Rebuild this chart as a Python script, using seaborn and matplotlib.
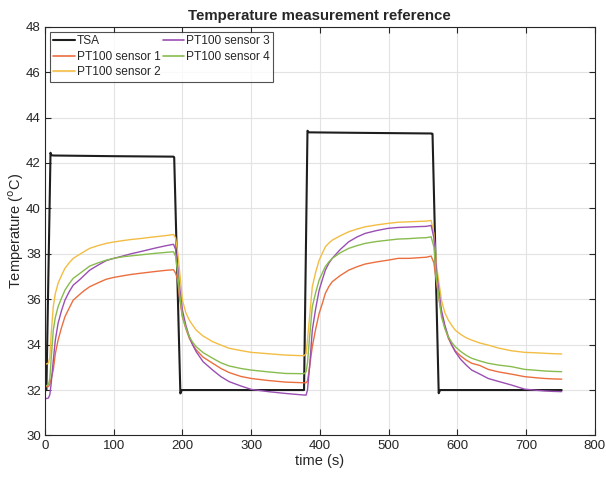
import numpy as np
import pandas as pd
import matplotlib
matplotlib.use("Agg")
import matplotlib.pyplot as plt
import seaborn as sns

# ---- data ----
tsa_time = [0, 2, 8, 9, 12, 100, 187, 188, 197, 199, 300, 377, 382, 384, 450, 563, 564, 573, 575, 650, 752]
tsa_temp = [32.0, 32.0, 42.45, 42.35, 42.33, 42.3, 42.28, 42.25, 31.85, 32.0, 32.0, 32.0, 43.42, 43.35, 43.33, 43.3, 43.28, 31.86, 32.0, 32.0, 32.0]

sensor_time = [0, 3, 5, 7, 9, 12, 15, 19, 24, 29, 35, 41, 50, 57, 65, 77, 89, 100, 113, 125, 138, 160, 175, 187,
               190, 193, 196, 200, 205, 210, 215, 220, 230, 244, 256, 268, 285, 300, 325, 350, 377,
               380, 382, 385, 389, 394, 399, 404, 408, 413, 418, 430, 442, 454, 466, 482, 499, 514, 530, 545, 555, 562,
               566, 570, 574, 577, 582, 587, 592, 597, 605, 613, 621, 633, 645, 660, 679, 698, 715, 727, 740, 752]

sensor1 = [32.15, 32.15, 32.15, 32.25, 32.5, 32.88, 33.6, 34.2, 34.75, 35.23, 35.6, 35.96, 36.2, 36.38, 36.55, 36.72, 36.88, 36.96, 37.03, 37.09, 37.14, 37.22, 37.27, 37.3,
           37.15, 36.85, 36.0, 35.23, 34.7, 34.28, 34.0, 33.77, 33.45, 33.18, 32.95, 32.77, 32.6, 32.51, 32.42, 32.35, 32.32,
           32.32, 32.4, 33.0, 33.91, 34.7, 35.38, 35.85, 36.26, 36.55, 36.77, 37.05, 37.28, 37.43, 37.55, 37.64, 37.72, 37.8, 37.8, 37.83, 37.85, 37.9,
           37.6, 36.7, 35.9, 35.38, 34.75, 34.28, 33.98, 33.73, 33.5, 33.32, 33.18, 33.08, 32.91, 32.8, 32.7, 32.59, 32.54, 32.51, 32.49, 32.48]

sensor2 = [33.15, 33.15, 33.2, 33.45, 34.5, 35.67, 36.25, 36.7, 37.05, 37.36, 37.6, 37.8, 37.97, 38.1, 38.24, 38.36, 38.46, 38.52, 38.58, 38.63, 38.67, 38.75, 38.8, 38.85,
           38.7, 38.1, 37.2, 35.96, 35.4, 35.08, 34.85, 34.64, 34.38, 34.13, 33.98, 33.84, 33.74, 33.66, 33.6, 33.54, 33.51,
           33.6, 34.2, 35.2, 36.55, 37.2, 37.72, 38.05, 38.31, 38.47, 38.6, 38.8, 38.97, 39.09, 39.19, 39.27, 39.34, 39.39, 39.41, 39.43, 39.44, 39.47,
           38.9, 37.43, 36.6, 35.96, 35.4, 35.08, 34.85, 34.64, 34.45, 34.3, 34.2, 34.07, 33.98, 33.85, 33.73, 33.66, 33.64, 33.62, 33.6, 33.59]

sensor3 = [31.63, 31.63, 31.65, 31.8, 32.3, 33.3, 34.2, 34.94, 35.5, 35.96, 36.32, 36.62, 36.85, 37.05, 37.28, 37.5, 37.7, 37.8, 37.9, 38.0, 38.09, 38.25, 38.35, 38.42,
           38.2, 37.44, 36.5, 35.52, 34.85, 34.35, 33.98, 33.69, 33.25, 32.88, 32.59, 32.37, 32.18, 32.03, 31.93, 31.85, 31.78,
           31.78, 32.0, 33.0, 34.64, 35.6, 36.4, 36.9, 37.28, 37.58, 37.8, 38.2, 38.53, 38.74, 38.9, 39.02, 39.12, 39.16, 39.18, 39.2, 39.21, 39.25,
           38.7, 37.15, 36.2, 35.52, 34.85, 34.35, 33.98, 33.69, 33.35, 33.1, 32.88, 32.7, 32.51, 32.38, 32.22, 32.04, 31.99, 31.96, 31.94, 31.93]

sensor4 = [32.2, 32.2, 32.25, 32.5, 33.4, 34.64, 35.2, 35.67, 36.05, 36.4, 36.68, 36.92, 37.12, 37.28, 37.46, 37.6, 37.72, 37.8, 37.87, 37.91, 37.95, 38.02, 38.06, 38.09,
           37.9, 37.15, 36.2, 35.23, 34.75, 34.35, 34.1, 33.91, 33.65, 33.4, 33.2, 33.06, 32.95, 32.88, 32.8, 32.73, 32.72,
           32.8, 33.2, 34.3, 35.67, 36.3, 36.85, 37.18, 37.44, 37.64, 37.8, 38.05, 38.24, 38.36, 38.46, 38.54, 38.6, 38.65, 38.67, 38.7, 38.71, 38.75,
           38.3, 36.85, 35.9, 35.23, 34.7, 34.35, 34.1, 33.91, 33.7, 33.53, 33.4, 33.28, 33.18, 33.1, 33.03, 32.91, 32.87, 32.84, 32.82, 32.81]

series_names = ["TSA", "PT100 sensor 1", "PT100 sensor 2", "PT100 sensor 3", "PT100 sensor 4"]
series_colors = ["#1e1e1e", "#EB6E3E", "#F3BD44", "#9A4FB3", "#88BC4E"]
x_ticks = [0, 100, 200, 300, 400, 500, 600, 700, 800]
y_ticks = [30, 32, 34, 36, 38, 40, 42, 44, 46, 48]

# ---- build tidy frame ----
frames = [pd.DataFrame({"time": tsa_time, "temp": tsa_temp, "series": "TSA"})]
for name, vals in zip(series_names[1:], [sensor1, sensor2, sensor3, sensor4]):
    frames.append(pd.DataFrame({"time": sensor_time, "temp": vals, "series": name}))
df = pd.concat(frames, ignore_index=True)

sns.set_style("white")
plt.rcParams["font.family"] = ["Liberation Sans", "DejaVu Sans"]

fig = plt.figure(figsize=(6.06, 4.78), dpi=100)
ax = fig.add_axes([0.0743, 0.089, 0.907, 0.855])

palette = dict(zip(series_names, series_colors))
sizes = {n: (1.5 if n == "TSA" else 1.0) for n in series_names}
sns.lineplot(data=df, x="time", y="temp", hue="series", hue_order=series_names,
             palette=palette, size="series", sizes=sizes, size_order=series_names,
             estimator=None, sort=False, ax=ax, legend=False)

ax.set_xlim(0, 800)
ax.set_ylim(30, 48)
ax.set_xticks(x_ticks)
ax.set_yticks(y_ticks)
ax.grid(True, color="#e3e3e3", linewidth=0.8)
ax.set_axisbelow(True)
for s in ax.spines.values():
    s.set_color("#262626")
    s.set_linewidth(0.8)
ax.tick_params(direction="in", length=4, width=0.8, color="#262626", labelsize=9.5,
               labelcolor="#262626", top=True, right=True, bottom=True, left=True, pad=3)

ax.set_xlabel("time (s)", fontsize=10.5, color="#262626", labelpad=2)
ax.set_ylabel("Temperature ($^{\\mathrm{o}}$C)", fontsize=10.5, color="#262626", labelpad=0)
ax.set_title("Temperature measurement reference", fontsize=10.8, fontweight="bold", pad=5)

handles = [plt.Line2D([], [], color=c, lw=(1.5 if n == "TSA" else 1.2)) for n, c in zip(series_names, series_colors)]
leg = ax.legend(handles, series_names, loc="upper left", ncol=2, fontsize=8.6, frameon=True,
                fancybox=False, edgecolor="#262626", handlelength=1.8, handletextpad=0.15,
                columnspacing=0.2, labelspacing=0.3, borderpad=0.3, borderaxespad=0.4)
leg.get_frame().set_linewidth(0.8)

fig.savefig("out.png", dpi=100)
